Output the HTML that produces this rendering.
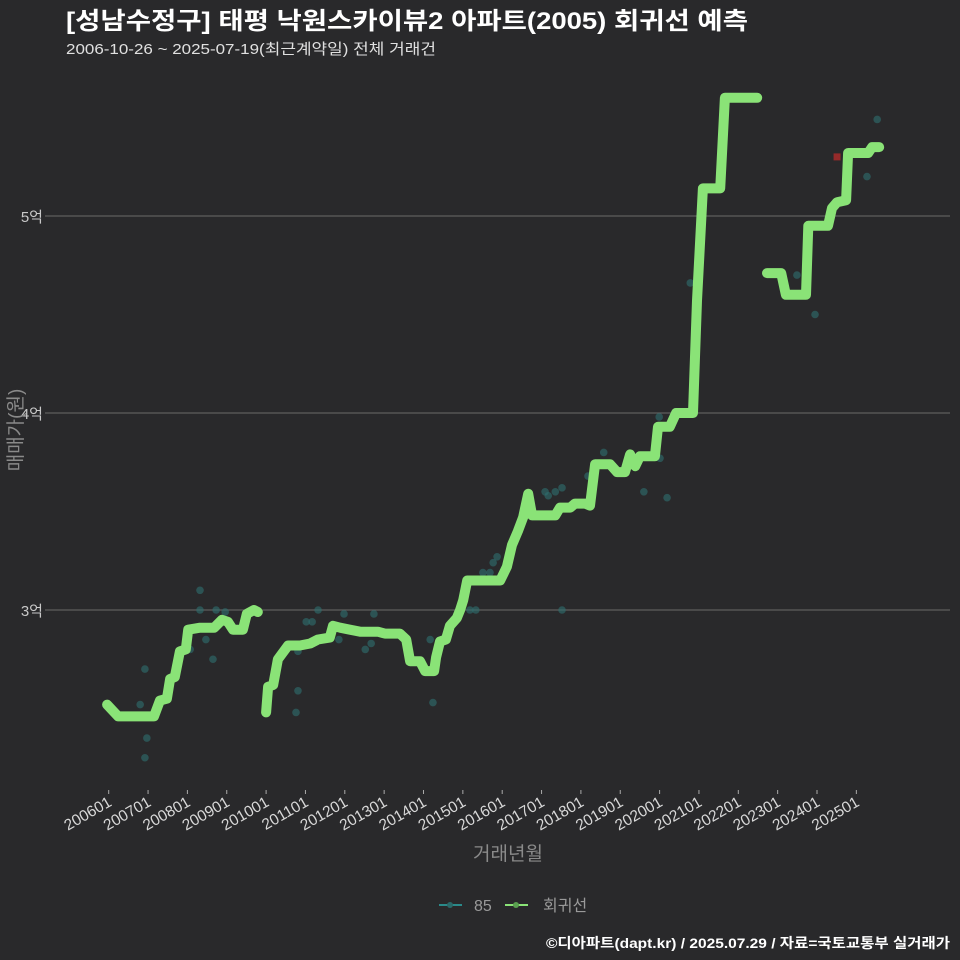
<!DOCTYPE html>
<html><head><meta charset="utf-8">
<style>
body{margin:0;background:#29292b;}
svg{display:block;font-family:"Liberation Sans","Noto Sans CJK KR",sans-serif;}
</style></head>
<body>
<svg id="chart" width="960" height="960" viewBox="0 0 960 960">
<rect width="960" height="960" fill="#29292b"/>
<text x="66" y="29" fill="#ffffff" font-size="24" font-weight="bold" textLength="682" lengthAdjust="spacingAndGlyphs">[성남수정구] 태평 낙원스카이뷰2 아파트(2005) 회귀선 예측</text>
<text x="66" y="54" fill="#e0e0e0" font-size="15" textLength="370" lengthAdjust="spacingAndGlyphs">2006-10-26 ~ 2025-07-19(최근계약일) 전체 거래건</text>
<g id="grid"></g>
<g id="yticks"></g>
<g id="xticks"></g>
<g id="scatter"></g>
<g id="lines"></g>
<g id="extra"></g>
<text x="0" y="0" transform="translate(22,430) rotate(-90)" text-anchor="middle" fill="#8a8a8a" font-size="19">매매가(원)</text>
<text x="508" y="860" text-anchor="middle" fill="#8a8a8a" font-size="19">거래년월</text>
<g>
<g>
<line x1="439" y1="905" x2="462" y2="905" stroke="#2a8a8a" stroke-width="2"/>
<circle cx="450" cy="905" r="3" fill="#2a6a6a"/>
<text x="474" y="911" fill="#9a9a9a" font-size="16">85</text>
</g>
<g>
<line x1="505" y1="905" x2="528" y2="905" stroke="#8ae377" stroke-width="2"/>
<circle cx="516" cy="905" r="3" fill="#5aa050"/>
<text x="543" y="911" fill="#9a9a9a" font-size="16">회귀선</text>
</g>
</g>
<text x="950" y="948" text-anchor="end" fill="#ffffff" font-size="14" font-weight="bold" textLength="404" lengthAdjust="spacingAndGlyphs">©디아파트(dapt.kr) / 2025.07.29 / 자료=국토교통부 실거래가</text>
</svg>
<script>
const yTickValues=[3,4,5];
const yTickLabels=["3억","4억","5억"];
const xTickYears=[2006,2007,2008,2009,2010,2011,2012,2013,2014,2015,2016,2017,2018,2019,2020,2021,2022,2023,2024,2025];
const xTickLabels=["200601","200701","200801","200901","201001","201101","201201","201301","201401","201501","201601","201701","201801","201901","202001","202101","202201","202301","202401","202501"];
const seg1Dates=[2005.96,2006.24,2007.15,2007.30,2007.48,2007.56,2007.68,2007.81,2007.96,2008.02,2008.32,2008.68,2008.88,2009.03,2009.16,2009.41,2009.51,2009.69,2009.79];
const seg1Values=[2.52,2.46,2.46,2.54,2.55,2.65,2.66,2.79,2.80,2.90,2.91,2.91,2.95,2.94,2.90,2.90,2.98,3.00,2.99];
const seg2Dates=[2010.00,2010.05,2010.18,2010.30,2010.56,2010.86,2011.12,2011.32,2011.62,2011.70,2011.88,2012.13,2012.39,2012.69,2012.84,2013.02,2013.30,2013.40,2013.56,2013.66,2013.91,2014.04,2014.27,2014.32,2014.42,2014.57,2014.67,2014.85,2014.93,2015.01,2015.11,2015.95,2016.12,2016.25,2016.40,2016.53,2016.66,2016.76,2017.35,2017.47,2017.73,2017.85,2018.11,2018.23,2018.36,2018.74,2018.92,2019.12,2019.25,2019.38,2019.50,2019.88,2019.96,2020.26,2020.42,2020.85,2020.95,2021.10,2021.54,2021.66,2022.48];
const seg2Values=[2.48,2.61,2.62,2.75,2.82,2.82,2.83,2.85,2.86,2.92,2.91,2.90,2.89,2.89,2.89,2.88,2.88,2.88,2.85,2.74,2.74,2.69,2.69,2.76,2.84,2.85,2.92,2.96,3.00,3.05,3.15,3.15,3.22,3.33,3.40,3.47,3.59,3.48,3.48,3.52,3.52,3.54,3.54,3.53,3.74,3.74,3.70,3.70,3.79,3.73,3.78,3.78,3.93,3.93,4.00,4.00,4.57,5.14,5.14,5.60,5.60];
const seg3Dates=[2022.73,2023.09,2023.21,2023.72,2023.78,2024.28,2024.38,2024.51,2024.74,2024.79,2025.30,2025.40,2025.58];
const seg3Values=[4.71,4.71,4.60,4.60,4.95,4.95,5.04,5.07,5.08,5.32,5.32,5.35,5.35];
const dealDates=[2006.92,2006.97,2006.92,2006.80,2008.32,2008.32,2008.73,2008.96,2008.47,2008.65,2008.07,2010.05,2010.76,2010.81,2010.81,2011.02,2011.17,2011.32,2011.85,2011.98,2012.52,2012.74,2012.67,2014.17,2014.24,2015.18,2015.33,2015.51,2015.69,2015.77,2015.87,2017.09,2017.17,2017.35,2017.52,2017.52,2018.18,2018.58,2019.25,2019.60,2020.01,2019.99,2020.19,2020.78,2023.49,2023.95,2025.27,2025.53];
const dealValues=[2.70,2.35,2.25,2.52,3.10,3.00,3.00,2.99,2.85,2.75,2.80,2.60,2.48,2.59,2.79,2.94,2.94,3.00,2.85,2.98,2.80,2.98,2.83,2.85,2.53,3.00,3.00,3.19,3.19,3.24,3.27,3.60,3.58,3.60,3.62,3.00,3.68,3.80,3.77,3.60,3.77,3.98,3.57,4.66,4.70,4.50,5.20,5.49];
const latestDate=[2024.51];
const latestValue=[5.30];

const NS="http://www.w3.org/2000/svg";
function xs(t){return 108.7+(t-2006)*39.35;}
function ys(v){return 216+(5-v)*197;}
function mk(tag,attrs,parent){const e=document.createElementNS(NS,tag);for(const k in attrs)e.setAttribute(k,attrs[k]);parent.appendChild(e);return e;}
const grid=document.getElementById('grid'),yt=document.getElementById('yticks'),xt=document.getElementById('xticks');
yTickValues.forEach((v,i)=>{
  const l=mk('line',{x1:45,x2:950,y1:ys(v),y2:ys(v),stroke:'#6a6a6a','stroke-width':1},grid);
  
  
  const t=mk('text',{x:43,y:ys(v)+6,'text-anchor':'end',fill:'#c8c8c8','font-size':15},yt);
  t.textContent=yTickLabels[i];
  
  
});
xTickYears.forEach((y,i)=>{
  const x=xs(y);
  const l=mk('line',{x1:x,x2:x,y1:790,y2:794,stroke:'#aaaaaa','stroke-width':1},xt);
  
  
  const t=mk('text',{x:0,y:0,transform:'translate('+(x+4)+',805) rotate(-30)','text-anchor':'end',fill:'#d8d8d8','font-size':15.5},xt);
  t.textContent=xTickLabels[i];
  
  
});
const sc=document.getElementById('scatter');
dealDates.forEach((d,i)=>{
  const c=mk('circle',{cx:xs(d),cy:ys(dealValues[i]),r:3.8,fill:'#2e7070','fill-opacity':0.6},sc);
  
  
});
const lg=document.getElementById('lines');
[[seg1Dates,seg1Values],[seg2Dates,seg2Values],[seg3Dates,seg3Values]].forEach((s,k)=>{
  const pts=s[0].map((d,i)=>xs(d).toFixed(1)+','+ys(s[1][i]).toFixed(1)).join(' ');
  const p=mk('polyline',{points:pts,fill:'none',stroke:'#8ae377','stroke-width':10,'stroke-linejoin':'round','stroke-linecap':'round'},lg);
  
  
});
const ex=document.getElementById('extra');
latestDate.forEach((d,i)=>{
  const x=xs(d),y=ys(latestValue[i]);
  const r=mk('rect',{x:x-3.5,y:y-3.5,width:7,height:7,fill:'#b02a2a','fill-opacity':0.8},ex);
  
  
});
</script>
</body></html>
